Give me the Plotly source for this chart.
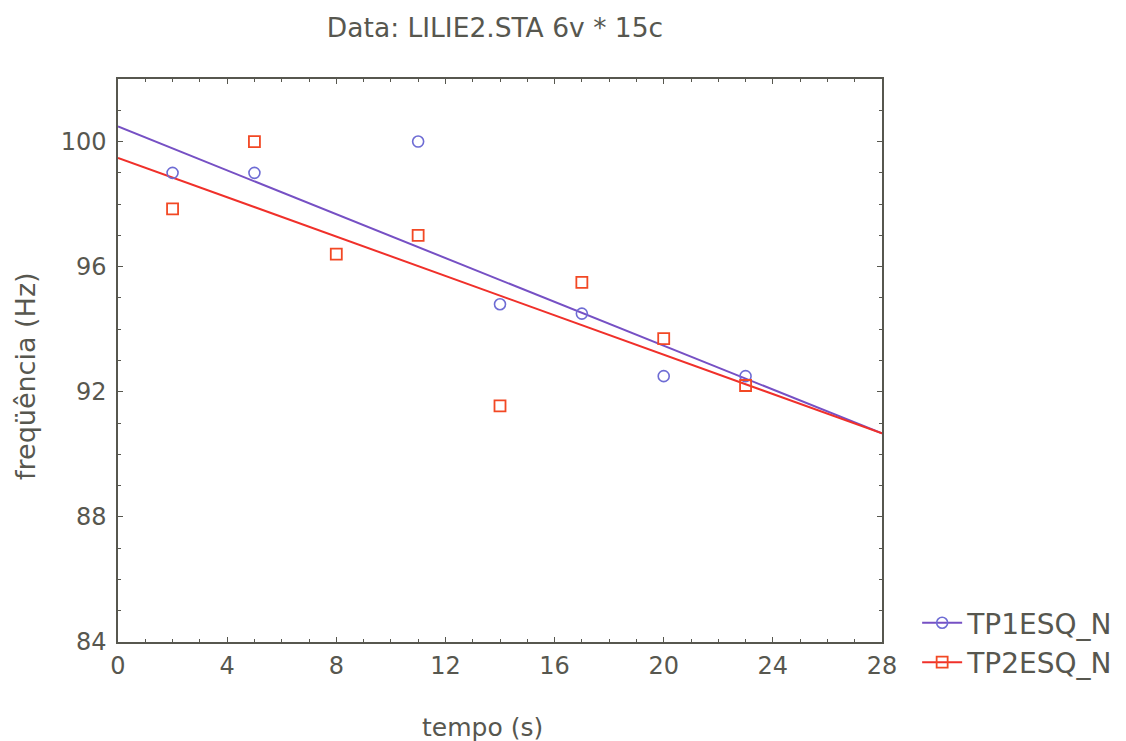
import plotly.graph_objects as go

# Data
tempo = [2, 5, 11, 14, 17, 20, 23]
tp1esq_n = [99.0, 99.0, 100.0, 94.8, 94.5, 92.5, 92.5]
tempo2 = [2, 5, 8, 11, 14, 17, 20, 23]
tp2esq_n = [97.85, 100.0, 96.4, 97.0, 91.55, 95.5, 93.7, 92.2]

# Fitted regression lines (endpoints)
fit_x = [0, 28]
fit_tp1 = [100.48, 90.67]
fit_tp2 = [99.48, 90.67]

x_ticks = [0, 4, 8, 12, 16, 20, 24, 28]
y_ticks = [84, 88, 92, 96, 100]

line1 = "#7650c4"
mark1 = "#6e6cd4"
line2 = "#f0302a"
mark2 = "#f24824"
grey = "#57574f"
FONT = "DejaVu Sans, Verdana, sans-serif"

fig = go.Figure()
fig.add_trace(go.Scatter(x=fit_x, y=fit_tp1, mode="lines",
                         line=dict(color=line1, width=2), showlegend=False, hoverinfo="skip"))
fig.add_trace(go.Scatter(x=fit_x, y=fit_tp2, mode="lines",
                         line=dict(color=line2, width=2), showlegend=False, hoverinfo="skip"))
fig.add_trace(go.Scatter(x=tempo, y=tp1esq_n, mode="markers", name="TP1ESQ_N", showlegend=False,
                         marker=dict(symbol="circle-open", size=11, color=mark1, line=dict(width=1.6))))
fig.add_trace(go.Scatter(x=tempo2, y=tp2esq_n, mode="markers", name="TP2ESQ_N", showlegend=False,
                         marker=dict(symbol="square-open", size=11, color=mark2, line=dict(width=1.8))))
# legend entries (line + marker symbol)
fig.add_trace(go.Scatter(x=[None], y=[None], mode="lines+markers", name="TP1ESQ_N",
                         line=dict(color=line1, width=2),
                         marker=dict(symbol="circle-open", size=11, color=mark1, line=dict(width=1.6))))
fig.add_trace(go.Scatter(x=[None], y=[None], mode="lines+markers", name="TP2ESQ_N",
                         line=dict(color=line2, width=2),
                         marker=dict(symbol="square-open", size=11, color=mark2, line=dict(width=1.8))))

fig.update_layout(
    width=1126, height=741,
    paper_bgcolor="white", plot_bgcolor="white",
    margin=dict(l=110, r=252, t=71, b=107, autoexpand=False),
    font=dict(family=FONT, color=grey, size=24),
    title=dict(text="Data: LILIE2.STA 6v * 15c", x=0.4325, xanchor="center", xref="container",
               y=0.973, yanchor="middle", yref="container",
               font=dict(size=26.5, color=grey, family=FONT)),
    legend=dict(x=1.046, y=0.078, xanchor="left", yanchor="top",
                font=dict(size=28, color=grey, family=FONT), bgcolor="rgba(0,0,0,0)",
                itemwidth=40, tracegroupgap=0),
    showlegend=True,
    annotations=[
        dict(text="tempo (s)", xref="paper", yref="paper", x=0.4777, y=-0.151,
             xanchor="center", yanchor="middle", showarrow=False,
             font=dict(size=25, color=grey, family=FONT)),
        dict(text="freqüência (Hz)", xref="paper", yref="paper", x=-0.1204, y=0.4725,
             xanchor="center", yanchor="middle", showarrow=False, textangle=-90,
             font=dict(size=27, color=grey, family=FONT)),
    ],
)
fig.update_xaxes(
    range=[0, 28], tickvals=x_ticks, ticktext=[str(v) for v in x_ticks],
    showgrid=False, zeroline=False, showline=True, linecolor=grey, linewidth=1.5,
    mirror="ticks", ticks="inside", ticklen=5, tickcolor=grey,
    minor=dict(dtick=1, ticks="inside", ticklen=3, tickcolor=grey),
    tickfont=dict(size=24, color=grey, family=FONT), ticklabelstandoff=1,
)
fig.update_yaxes(
    range=[84, 102], tickvals=y_ticks, ticktext=[str(v) for v in y_ticks],
    showgrid=False, zeroline=False, showline=True, linecolor=grey, linewidth=1.5,
    mirror="ticks", ticks="inside", ticklen=5, tickcolor=grey,
    minor=dict(dtick=1, ticks="inside", ticklen=3, tickcolor=grey),
    tickfont=dict(size=24, color=grey, family=FONT), ticklabelstandoff=5,
)

fig.write_html("out.html")
